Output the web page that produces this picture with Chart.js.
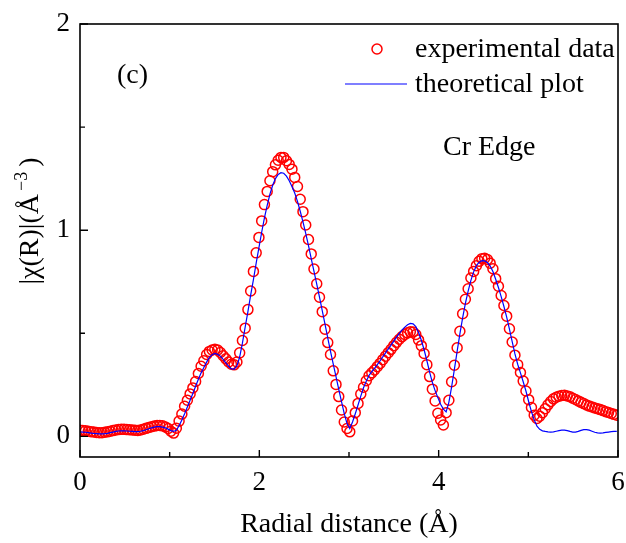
<!DOCTYPE html>
<html>
<head>
<meta charset="utf-8">
<script src="https://cdn.jsdelivr.net/npm/chart.js@4.4.1/dist/chart.umd.min.js"></script>
<style>
  html, body { margin: 0; padding: 0; background: #fff; }
</style>
</head>
<body>
<canvas id="exafs-chart" width="626" height="543"></canvas>
<script>
// R grid of the Fourier transform (Å)
const rStep = 0.0307

// |chi(R)| experimental points, one per grid step
const expData = [
    0.030, 0.029, 0.027, 0.025, 0.023, 0.021, 0.019, 0.018, 0.018, 0.020,
    0.022, 0.025, 0.028, 0.031, 0.033, 0.034, 0.034, 0.033, 0.032, 0.031,
    0.030, 0.029, 0.031, 0.035, 0.039, 0.043, 0.047, 0.050, 0.053, 0.053,
    0.051, 0.046, 0.038, 0.025, 0.016, 0.040, 0.074, 0.108, 0.146, 0.175,
    0.206, 0.235, 0.266, 0.305, 0.340, 0.367, 0.397, 0.412, 0.419, 0.422,
    0.419, 0.407, 0.391, 0.376, 0.361, 0.350, 0.347, 0.361, 0.405, 0.465,
    0.525, 0.615, 0.705, 0.800, 0.890, 0.965, 1.045, 1.124, 1.188, 1.240,
    1.284, 1.317, 1.339, 1.353, 1.353, 1.337, 1.319, 1.296, 1.256, 1.212,
    1.150, 1.090, 1.025, 0.955, 0.885, 0.812, 0.740, 0.675, 0.605, 0.520,
    0.455, 0.397, 0.318, 0.252, 0.193, 0.128, 0.070, 0.038, 0.022, 0.075,
    0.115, 0.160, 0.205, 0.238, 0.270, 0.294, 0.308, 0.322, 0.338, 0.354,
    0.372, 0.389, 0.406, 0.422, 0.440, 0.456, 0.471, 0.484, 0.494, 0.502,
    0.507, 0.506, 0.494, 0.468, 0.440, 0.402, 0.348, 0.290, 0.229, 0.172,
    0.112, 0.080, 0.055, 0.115, 0.175, 0.265, 0.345, 0.430, 0.510, 0.595,
    0.665, 0.716, 0.768, 0.800, 0.828, 0.849, 0.862, 0.864, 0.858, 0.840,
    0.813, 0.765, 0.728, 0.683, 0.635, 0.583, 0.522, 0.458, 0.394, 0.348,
    0.310, 0.268, 0.220, 0.178, 0.140, 0.103, 0.087, 0.098, 0.115, 0.134,
    0.153, 0.169, 0.182, 0.190, 0.195, 0.198, 0.199, 0.196, 0.192, 0.185,
    0.179, 0.172, 0.165, 0.159, 0.152, 0.147, 0.143, 0.138, 0.134, 0.130,
    0.125, 0.120, 0.116, 0.111, 0.107, 0.103
]

// theoretical fit on the same grid
const theoData = [
    0.022, 0.021, 0.020, 0.018, 0.016, 0.014, 0.013, 0.012, 0.012, 0.013,
    0.015, 0.018, 0.021, 0.024, 0.026, 0.027, 0.027, 0.026, 0.025, 0.024,
    0.023, 0.023, 0.025, 0.028, 0.032, 0.037, 0.041, 0.045, 0.047, 0.047,
    0.045, 0.041, 0.035, 0.028, 0.024, 0.030, 0.052, 0.080, 0.110, 0.142,
    0.175, 0.208, 0.243, 0.277, 0.308, 0.334, 0.360, 0.383, 0.396, 0.402,
    0.398, 0.389, 0.374, 0.357, 0.340, 0.327, 0.326, 0.342, 0.385, 0.452,
    0.530, 0.605, 0.685, 0.760, 0.840, 0.915, 0.990, 1.060, 1.120, 1.175,
    1.218, 1.250, 1.270, 1.279, 1.276, 1.262, 1.240, 1.212, 1.180, 1.140,
    1.092, 1.040, 0.985, 0.925, 0.862, 0.800, 0.738, 0.675, 0.610, 0.545,
    0.478, 0.412, 0.350, 0.290, 0.228, 0.168, 0.110, 0.062, 0.038, 0.070,
    0.110, 0.152, 0.195, 0.236, 0.268, 0.296, 0.314, 0.330, 0.348, 0.366,
    0.386, 0.405, 0.424, 0.443, 0.462, 0.481, 0.500, 0.516, 0.530, 0.541,
    0.548, 0.546, 0.532, 0.504, 0.466, 0.420, 0.368, 0.312, 0.262, 0.222,
    0.188, 0.156, 0.132, 0.119, 0.165, 0.240, 0.325, 0.412, 0.497, 0.575,
    0.645, 0.705, 0.757, 0.798, 0.828, 0.845, 0.852, 0.851, 0.843, 0.826,
    0.800, 0.762, 0.722, 0.678, 0.630, 0.578, 0.520, 0.460, 0.400, 0.350,
    0.308, 0.265, 0.220, 0.168, 0.120, 0.080, 0.050, 0.034, 0.027, 0.024,
    0.022, 0.021, 0.022, 0.025, 0.028, 0.030, 0.030, 0.028, 0.024, 0.021,
    0.021, 0.024, 0.029, 0.033, 0.033, 0.030, 0.025, 0.020, 0.017, 0.016,
    0.017, 0.019, 0.021, 0.023, 0.024, 0.024
]

const xTicks = [0, 2, 4, 6]
const xMinorTicks = [1, 3, 5]
const yTicks = [0, 1, 2]
const yMinorTicks = [0.5, 1.5]

const serif = '"Liberation Serif", "Times New Roman", serif'
const tickFont = { family: serif, size: 27 }
const titleFont = { family: serif, size: 28 }

// box, inward ticks, legend and the text labels
const framePlugin = {
    id: 'frame',
    afterDraw(chart) {
        const { ctx, chartArea: a, scales: { x, y } } = chart
        ctx.save()
        ctx.strokeStyle = '#000'
        ctx.lineWidth = 1.6
        ctx.strokeRect(a.left, a.top, a.right - a.left, a.bottom - a.top)

        ctx.lineWidth = 1.4
        ctx.beginPath()
        xTicks.forEach(v => { const px = x.getPixelForValue(v); ctx.moveTo(px, a.bottom); ctx.lineTo(px, a.bottom - 7) })
        xMinorTicks.forEach(v => { const px = x.getPixelForValue(v); ctx.moveTo(px, a.bottom); ctx.lineTo(px, a.bottom - 5) })
        yTicks.forEach(v => { const py = y.getPixelForValue(v); ctx.moveTo(a.left, py); ctx.lineTo(a.left + 8, py) })
        yMinorTicks.forEach(v => { const py = y.getPixelForValue(v); ctx.moveTo(a.left, py); ctx.lineTo(a.left + 5, py) })
        ctx.stroke()

        ctx.fillStyle = '#000'
        ctx.font = '28px ' + serif
        ctx.textBaseline = 'middle'
        ctx.textAlign = 'left'

        // legend
        const ds = chart.data.datasets
        ctx.strokeStyle = '#ff0000'
        ctx.lineWidth = 1.5
        ctx.beginPath()
        ctx.arc(377, 49, 5, 0, Math.PI * 2)
        ctx.stroke()
        ctx.fillText(ds[0].label, 415, 50)

        ctx.strokeStyle = '#0000ff'
        ctx.lineWidth = 1.2
        ctx.beginPath()
        ctx.moveTo(345, 84)
        ctx.lineTo(407, 84)
        ctx.stroke()
        ctx.fillText(ds[1].label, 415, 85)

        ctx.fillText('(c)', 117, 76)
        ctx.fillText('Cr Edge', 443, 148)

        // y axis title with superscript
        ctx.translate(31, 221)
        ctx.rotate(-Math.PI / 2)
        const main = '|χ(R)|(Å'
        ctx.font = '28px ' + serif
        const w1 = ctx.measureText(main).width
        ctx.font = '18px ' + serif
        const w2 = ctx.measureText('−3').width
        ctx.font = '28px ' + serif
        const w3 = ctx.measureText(')').width
        let cx = -(w1 + w2 + w3 + 8) / 2
        ctx.fillText(main, cx, 0)
        cx += w1 + 3
        ctx.font = '18px ' + serif
        ctx.fillText('−3', cx, -9)
        cx += w2 + 5
        ctx.font = '28px ' + serif
        ctx.fillText(')', cx, 0)
        ctx.restore()
    }
}

new Chart(document.querySelector('#exafs-chart').getContext('2d'), {
    type: 'scatter',
    data: {
        datasets: [
            {
                label: 'experimental data',
                data: expData.map((v, i) => ({ x: i * rStep, y: v })),
                pointStyle: 'circle',
                pointRadius: 5,
                pointBorderWidth: 1.5,
                borderColor: '#ff0000',
                backgroundColor: 'rgba(0,0,0,0)',
                order: 2
            },
            {
                label: 'theoretical plot',
                data: theoData.map((v, i) => ({ x: i * rStep, y: v })),
                showLine: true,
                pointRadius: 0,
                borderWidth: 1.2,
                borderColor: '#0000ff',
                backgroundColor: '#0000ff',
                tension: 0,
                order: 1
            }
        ]
    },
    options: {
        responsive: false,
        animation: false,
        devicePixelRatio: 1,
        layout: { padding: { top: 24, right: 8, left: 0, bottom: 0 } },
        plugins: {
            legend: { display: false },
            tooltip: { enabled: false }
        },
        scales: {
            x: {
                type: 'linear',
                min: 0,
                max: 6,
                afterBuildTicks: s => { s.ticks = xTicks.map(v => ({ value: v })) },
                afterFit: s => { s.height = 86; s.paddingLeft = 0; s.paddingRight = 0 },
                grid: { display: false, drawTicks: false },
                border: { display: false },
                ticks: { font: tickFont, color: '#000', padding: 10, maxRotation: 0 },
                title: { display: true, text: 'Radial distance (Å)', font: titleFont, color: '#000', padding: { top: 0, bottom: 2 } }
            },
            y: {
                type: 'linear',
                min: -0.1,
                max: 2,
                afterBuildTicks: s => { s.ticks = yTicks.map(v => ({ value: v })) },
                afterFit: s => { s.width = 80; s.paddingTop = 0; s.paddingBottom = 0 },
                grid: { display: false, drawTicks: false },
                border: { display: false },
                ticks: { font: tickFont, color: '#000', padding: 10 }
            }
        }
    },
    plugins: [framePlugin]
})
</script>
</body>
</html>
